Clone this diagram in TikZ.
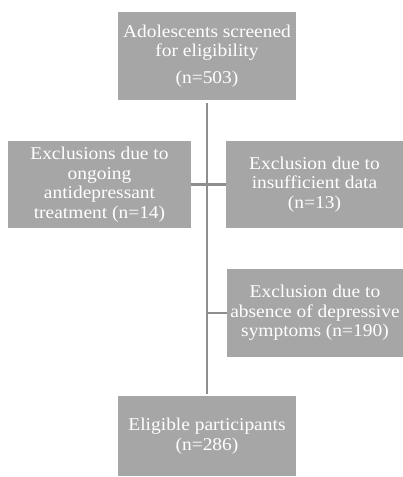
\documentclass[tikz,border=0pt]{standalone}
\usepackage{fontspec}
\setmainfont[FakeStretch=1.08]{Liberation Serif}
\definecolor{boxgray}{HTML}{A6A6A6}
\definecolor{linegray}{HTML}{8E8E8E}
\begin{document}
\begin{tikzpicture}[x=1pt,y=-1pt,
  box/.style={fill=boxgray, draw=none, text=white, align=center, inner sep=0pt,
    font=\fontsize{18}{19.5}\selectfont},
  conn/.style={draw=linegray, line width=2.8pt}]
\useasboundingbox (0,0) rectangle (403,477);
\node[box, minimum width=178pt, minimum height=88pt] (top) at (207,56)
  {Adolescents screened\\for eligibility\\[7pt](n=503)};
\node[box, minimum width=183pt, minimum height=87pt] (left) at (99.5,184.5)
  {Exclusions due to\\ongoing\\antidepressant\\treatment (n=14)};
\node[box, minimum width=177pt, minimum height=87pt] (r1) at (314.5,184.5)
  {Exclusion due to\\insufficient data\\(n=13)};
\node[box, minimum width=176pt, minimum height=88pt] (r2) at (315,313)
  {Exclusion due to\\absence of depressive\\symptoms (n=190)};
\node[box, minimum width=178pt, minimum height=80pt] (bot) at (207,436)
  {Eligible participants\\(n=286)};
\coordinate (branch) at (207,313);
\draw[conn] ([yshift=-3pt]top.south) -- ([yshift=2pt]bot.north);
\draw[conn] (left.east) -- (r1.west);
\draw[conn] (branch) -- (r2.west);
\end{tikzpicture}
\end{document}
